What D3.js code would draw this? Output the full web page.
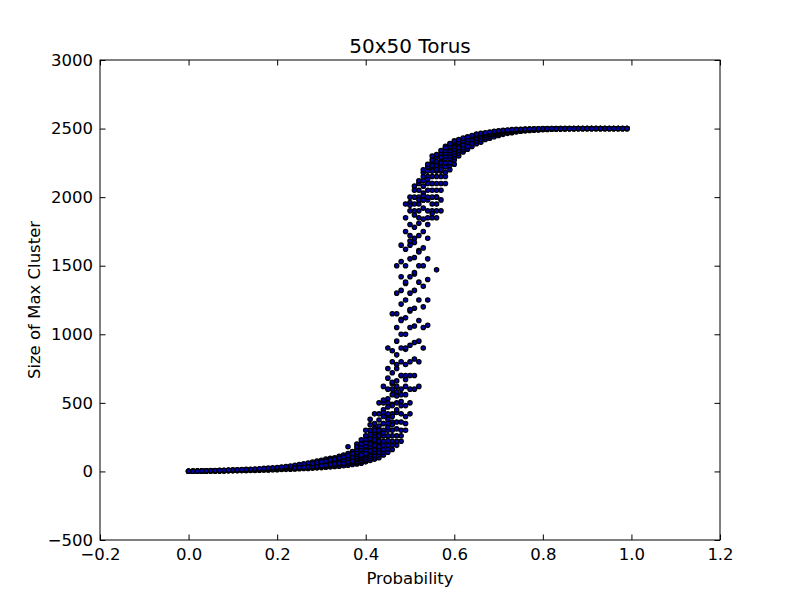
<!DOCTYPE html>
<html><head><meta charset="utf-8">
<script src="https://cdn.jsdelivr.net/npm/d3@7"></script>
<style>body{margin:0;background:#fff}svg{display:block}text{font-family:"DejaVu Sans",sans-serif}</style>
</head><body><svg id="c" width="800" height="600"></svg>
<script>
const probabilities = [0.00,0.01,0.02,0.03,0.04,0.05,0.06,0.07,0.08,0.09,0.10,0.11,0.12,0.13,0.14,0.15,0.16,0.17,0.18,0.19,0.20,0.21,0.22,0.23,0.24,0.25,0.26,0.27,0.28,0.29,0.30,0.31,0.32,0.33,0.34,0.35,0.36,0.37,0.38,0.39,0.40,0.41,0.42,0.43,0.44,0.45,0.46,0.47,0.48,0.49,0.50,0.51,0.52,0.53,0.54,0.55,0.56,0.57,0.58,0.59,0.60,0.61,0.62,0.63,0.64,0.65,0.66,0.67,0.68,0.69,0.70,0.71,0.72,0.73,0.74,0.75,0.76,0.77,0.78,0.79,0.80,0.81,0.82,0.83,0.84,0.85,0.86,0.87,0.88,0.89,0.90,0.91,0.92,0.93,0.94,0.95,0.96,0.97,0.98,0.99];
const clusterSizes = [
[1,1,1,1,1],[1,1,2,2,1],[1,2,2,3,2],[2,2,3,3,4],[2,3,3,4,5],[3,3,4,5,6],[3,4,5,5,7],[4,4,5,6,8],[4,5,6,7,9],[5,6,7,8,10],
[5,6,8,9,11],[6,7,8,10,12],[6,8,9,11,13],[7,8,10,12,15],[8,9,11,13,16],[8,10,12,14,18],[9,11,13,16,20],[10,12,14,17,22],[11,13,16,19,24],[12,14,17,21,26],
[13,15,19,23,29],[14,17,21,26,32],[15,19,23,28,36],[16,20,25,31,40],[18,22,28,35,45,25],[19,24,30,38,50,28],[21,26,33,42,55,30],[22,28,36,46,62,32],[24,31,40,51,68,35,58],[26,34,44,56,75,38,64],
[28,37,48,62,82,42,70],[30,40,52,68,90,45,76],[33,44,57,74,95,50,84],[36,48,62,80,100,55,90],[38,52,68,88,110,60,98],[42,56,74,96,120,60,85,105],[45,60,80,105,130,180,70,95,115],[50,66,88,115,145,90,75,105,130],
[55,65,72,85,96,110,126,140,160,200,180],[60,70,80,95,106,120,140,160,180,230,120,200],
[70,80,90,105,120,140,160,185,210,235,260,300,150,130],[80,95,110,125,140,160,180,210,240,270,300,340,380,200,150],[90,105,120,140,160,185,210,245,280,315,350,420,190,250,230,300],[100,120,140,165,190,220,250,290,330,375,420,500,220,300,260,180],[120,140,160,190,220,260,300,350,400,450,500,620,260,350,430,280,520],
[140,165,190,225,260,300,350,410,470,530,600,680,750,900,320,420,380,500],[160,190,220,260,300,360,420,490,560,640,720,800,880,1150,400,650,340,480,600],[190,220,260,310,360,430,500,580,660,750,850,950,1050,1150,1300,1500,450,780,550,620],[220,260,300,360,420,510,600,700,800,900,1000,1110,1220,1320,1420,1530,1650,700,1100,480,560],[300,350,400,480,560,670,780,890,1000,1120,1250,1370,1500,1620,1750,1850,1950,900,1380,620,700],
[420,500,600,700,800,920,1050,1170,1300,1420,1550,1680,1800,1900,1960,1180,1650,1720,1940,2000],[600,700,820,940,1060,1190,1320,1440,1560,1670,1780,1870,1950,2000,2050,1450,1700,1900,2080],[620,800,950,1100,1250,1380,1500,1610,1720,1810,1900,1950,2000,2050,2100,1850,1600,2120,1980],[900,1050,1200,1350,1500,1630,1750,1840,1920,1980,2030,2080,2120,2150,2180,1980,2200,2010],[1065,1250,1400,1550,1700,1800,1900,1980,2050,2100,2150,2190,2220,2000,1850,2240,2130],
[1850,1900,1950,2000,2050,2100,2150,2190,2220,2250,2270,2100,1880,2300,2230],[1470,1850,1900,1950,2000,2050,2100,2150,2190,2230,2260,2290,2200,2000,2310],[1900,1980,2050,2100,2150,2190,2220,2260,2290,2320,2250,2340,2200],[2100,2150,2180,2220,2250,2280,2300,2320,2340,2370,2360],[2200,2230,2250,2280,2300,2320,2340,2360,2370,2390],
[2240,2270,2290,2310,2330,2350,2370,2390,2400,2410],[2300,2320,2340,2370,2400,2420,2360],[2330,2345,2360,2390,2410,2430,2380],[2350,2380,2400,2420,2440,2370],[2370,2400,2420,2440,2450,2390],
[2390,2410,2430,2450,2460],[2400,2420,2440,2455,2465],[2420,2435,2450,2460,2470],[2430,2445,2458,2468,2475],[2440,2455,2465,2472,2480],
[2450,2462,2470,2478,2484],[2458,2468,2476,2482,2487],[2465,2473,2480,2486,2490],[2470,2478,2484,2488,2492],[2475,2482,2487,2491,2494],
[2480,2485,2490,2493,2495],[2483,2488,2492,2495,2496],[2486,2490,2494,2496,2497],[2488,2492,2495,2497,2498],[2490,2494,2496,2498,2499],
[2492,2495,2497,2499,2500],[2494,2496,2498,2499,2500],[2495,2497,2499,2500,2500],[2496,2498,2499,2500,2500],[2497,2499,2500,2500,2500],
[2498,2499,2500,2500,2500],[2499,2500,2500,2500,2500],[2499,2500,2500,2500,2500],[2500,2500,2500,2500,2500],[2500,2500,2500,2500,2500],
[2500,2500,2500,2500,2500],[2500,2500,2500,2500,2500],[2500,2500,2500,2500,2500],[2500,2500,2500,2500,2500],[2500,2500,2500,2500,2500],
[2500,2500,2500,2500,2500],[2500,2500,2500,2500,2500],[2500,2500,2500,2500,2500],[2500,2500,2500,2500,2500],[2500,2500,2500,2500,2500]
];
const xTicks = [-0.2,0.0,0.2,0.4,0.6,0.8,1.0,1.2];
const yTicks = [-500,0,500,1000,1500,2000,2500,3000];
const titleText = "50x50 Torus", xLabel = "Probability", yLabel = "Size of Max Cluster";

const L=100,R=720,T=60,B=540;
const svg=d3.select("#c");
const x=d3.scaleLinear().domain([-0.2,1.2]).range([L,R]);
const y=d3.scaleLinear().domain([-500,3000]).range([B,T]);
const pts=[];
probabilities.forEach((p,i)=>clusterSizes[i].forEach(v=>pts.push([p,v])));
svg.append("g").selectAll("circle").data(pts).join("circle")
  .attr("cx",d=>x(d[0])).attr("cy",d=>y(d[1])).attr("r",2.2)
  .attr("fill","#0000b0").attr("stroke","#000").attr("stroke-width",1.2);
const fmtX=d=>(d<0?"\u2212":"")+Math.abs(d).toFixed(1);
const fmtY=d=>(d<0?"\u2212":"")+Math.abs(d);
const tl=5.5;
const ax=(g,axis)=>{g.call(axis);g.select(".domain").remove();g.selectAll("text").attr("font-size",16.5).attr("fill","#000").attr("font-family","DejaVu Sans");g.selectAll("line").attr("stroke","#000");};
svg.append("g").attr("transform",`translate(0,${B})`).call(g=>ax(g,d3.axisBottom(x).tickValues(xTicks).tickFormat(fmtX).tickSizeInner(-tl).tickPadding(8)));
svg.append("g").attr("transform",`translate(0,${T})`).call(g=>ax(g,d3.axisTop(x).tickValues(xTicks).tickFormat("").tickSizeInner(-tl)));
svg.append("g").attr("transform",`translate(${L},0)`).call(g=>ax(g,d3.axisLeft(y).tickValues(yTicks).tickFormat(fmtY).tickSizeInner(-tl).tickPadding(7)));
svg.append("g").attr("transform",`translate(${R},0)`).call(g=>ax(g,d3.axisRight(y).tickValues(yTicks).tickFormat("").tickSizeInner(-tl)));
svg.append("rect").attr("x",L).attr("y",T).attr("width",R-L).attr("height",B-T).attr("fill","none").attr("stroke","#000").attr("stroke-width",1);
svg.append("text").attr("x",(L+R)/2).attr("y",T-7).attr("text-anchor","middle").attr("font-size",20).text(titleText);
svg.append("text").attr("x",(L+R)/2).attr("y",584).attr("text-anchor","middle").attr("font-size",16.5).text(xLabel);
svg.append("text").attr("transform",`translate(40,${(T+B)/2}) rotate(-90)`).attr("text-anchor","middle").attr("font-size",16.5).text(yLabel);
</script></body></html>
